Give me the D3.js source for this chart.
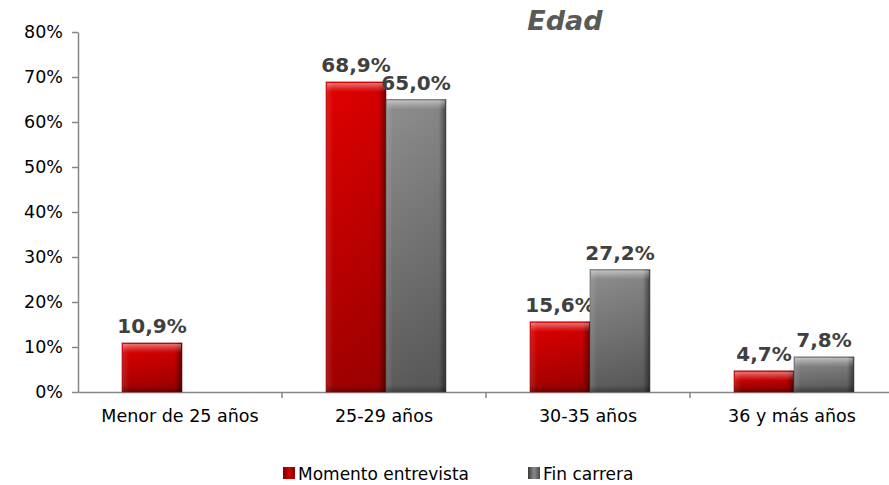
<!DOCTYPE html>
<html><head><meta charset="utf-8">
<script src="https://cdn.jsdelivr.net/npm/d3@7"></script>
<style>body{margin:0;background:#fff}svg{display:block;font-family:"DejaVu Sans",Verdana,sans-serif}</style>
</head><body><svg id="c" width="889" height="485"></svg>
<script>
const categories = ["Menor de 25 años", "25-29 años", "30-35 años", "36 y más años"];
const seriesNames = ["Momento entrevista", "Fin carrera"];
const momentoEntrevista = [10.9, 68.9, 15.6, 4.7];
const finCarrera = [null, 65.0, 27.2, 7.8];
const yTicks = [0, 10, 20, 30, 40, 50, 60, 70, 80];
const title = "Edad";

const svg = d3.select("#c");
const defs = svg.append("defs");
function mkGrad(id, stops, vertical) {
  const g = defs.append("linearGradient").attr("id", id)
    .attr("x1", 0).attr("y1", 0).attr("x2", vertical ? 0 : 1).attr("y2", vertical ? 1 : 0);
  stops.forEach(s => g.append("stop").attr("offset", s[0]).attr("stop-color", s[1]).attr("stop-opacity", s[2] == null ? 1 : s[2]));
}
mkGrad("redV", [[0, "#e00000"], [1, "#a00000"]], true);
mkGrad("grayV", [[0, "#8e8e8e"], [1, "#5a5a5a"]], true);
mkGrad("sideH", [[0, "#ffffff", 0.12], [0.08, "#ffffff", 0.05], [0.15, "#000000", 0], [0.88, "#000000", 0.05], [0.96, "#000000", 0.35], [1, "#000000", 0.55]]);
mkGrad("topBevel", [[0, "#ffffff", 0.45], [0.6, "#ffffff", 0.15], [1, "#ffffff", 0]], true);
mkGrad("botBevel", [[0, "#000000", 0], [1, "#000000", 0.3]], true);
mkGrad("legRed", [[0, "#7a0000"], [0.5, "#d00000"], [1, "#8a0000"]]);
mkGrad("legGray", [[0, "#3a3a3a"], [0.5, "#8a8a8a"], [1, "#4a4a4a"]]);

const x0 = d3.scaleBand().domain(categories).range([78, 894]).paddingInner(0).paddingOuter(0);
const x1 = d3.scaleBand().domain(seriesNames).range([0, 120]);
const y = d3.scaleLinear().domain([0, 80]).range([392, 32]);

// y axis
const yAxis = d3.axisLeft(y).tickValues(yTicks).tickFormat(d => d + "%").tickSize(6).tickSizeOuter(0);
const ga = svg.append("g").attr("transform", "translate(78,0)").call(yAxis);
ga.select(".domain").attr("stroke", "#868686").attr("stroke-width", 1.5);
ga.selectAll(".tick line").attr("stroke", "#868686").attr("stroke-width", 1.5);
ga.selectAll(".tick text").attr("font-size", 17.5).attr("fill", "#000").attr("x", -15)
  .attr("font-family", "DejaVu Sans, Verdana, sans-serif");

// x axis
const xAxis = d3.axisBottom(x0).tickSize(0).tickSizeOuter(0);
const gx = svg.append("g").attr("transform", "translate(0,392)").call(xAxis);
gx.select(".domain").attr("stroke", "#868686").attr("stroke-width", 1.5);
gx.selectAll(".tick text").attr("font-size", 17.5).attr("fill", "#000").attr("dy", "1.55em")
  .attr("font-family", "DejaVu Sans, Verdana, sans-serif");
gx.selectAll(".bnd").data(categories.slice(1)).join("line").attr("class", "bnd")
  .attr("x1", d => x0(d)).attr("x2", d => x0(d)).attr("y1", 0).attr("y2", 6)
  .attr("stroke", "#868686").attr("stroke-width", 1.5);

const series = [
  { name: seriesNames[0], values: momentoEntrevista, fill: "url(#redV)", edge: "#900000" },
  { name: seriesNames[1], values: finCarrera, fill: "url(#grayV)", edge: "#505050" }
];

series.forEach(s => {
  const g = svg.append("g");
  const data = categories.map((c, i) => ({ c, v: s.values[i] })).filter(d => d.v != null);
  const xs = d => x0(d.c) + (x0.bandwidth() - 120) / 2 + x1(s.name) + 2;
  const w = x1.bandwidth();
  const top = d => y(d.v), hgt = d => y(0) - y(d.v);
  g.selectAll("rect.b").data(data).join("rect").attr("class", "b")
    .attr("x", xs).attr("y", top).attr("width", w).attr("height", hgt)
    .attr("fill", s.fill);
  g.selectAll("rect.s").data(data).join("rect").attr("class", "s")
    .attr("x", xs).attr("y", top).attr("width", w).attr("height", hgt)
    .attr("fill", "url(#sideH)");
  g.selectAll("rect.t").data(data).join("rect").attr("class", "t")
    .attr("x", d => xs(d) + 1).attr("y", d => top(d) + 1).attr("width", w - 2).attr("height", d => Math.min(9, hgt(d) / 2))
    .attr("fill", "url(#topBevel)");
  g.selectAll("rect.bb").data(data).join("rect").attr("class", "bb")
    .attr("x", xs).attr("y", d => y(0) - Math.min(7, hgt(d) / 3)).attr("width", w).attr("height", d => Math.min(7, hgt(d) / 3))
    .attr("fill", "url(#botBevel)");
  g.selectAll("rect.o").data(data).join("rect").attr("class", "o")
    .attr("x", xs).attr("y", top).attr("width", w).attr("height", hgt)
    .attr("fill", "none").attr("stroke", s.edge).attr("stroke-width", 0.8).attr("stroke-opacity", 0.7);
  g.selectAll("text").data(data).join("text")
    .attr("x", d => xs(d) + w / 2).attr("y", d => y(d.v) - 10)
    .attr("text-anchor", "middle").attr("font-size", 20).attr("font-weight", "bold").attr("fill", "#404040")
    .text(d => d.v.toFixed(1).replace(".", ",") + "%");
});

// title
svg.append("text").attr("x", 565).attr("y", 30).attr("text-anchor", "middle")
  .attr("font-size", 27).attr("font-weight", "bold").attr("font-style", "italic").attr("fill", "#595959")
  .text(title);

// legend
const legX = [283, 528];
const leg = svg.append("g");
seriesNames.forEach((n, i) => {
  leg.append("rect").attr("x", legX[i]).attr("y", 467).attr("width", 12).attr("height", 12)
    .attr("fill", i === 0 ? "url(#legRed)" : "url(#legGray)");
  leg.append("text").attr("x", legX[i] + 15).attr("y", 480).attr("font-size", 17).attr("fill", "#000").text(n);
});
</script></body></html>
